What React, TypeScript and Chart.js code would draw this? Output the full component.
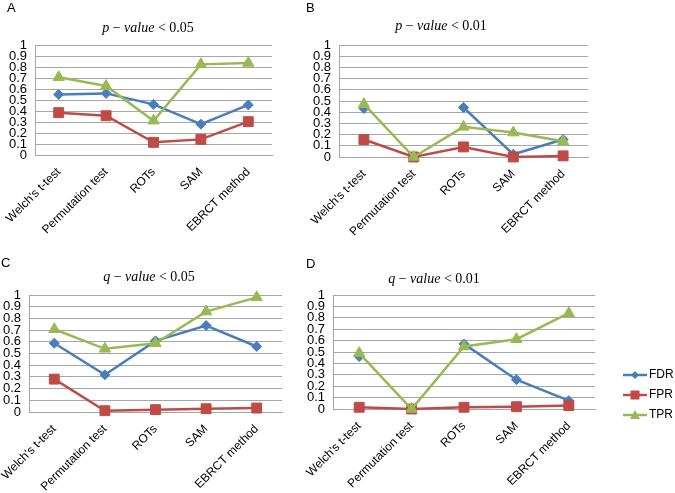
import React, { useEffect, useRef } from "react";
import { Chart, registerables } from "chart.js";

Chart.register(...registerables);

// ---------- data ----------
const methods = ["Welch's t-test", "Permutation test", "ROTs", "SAM", "EBRCT method"];
const seriesNames = ["FDR", "FPR", "TPR"];
const yTickValues = [0, 0.1, 0.2, 0.3, 0.4, 0.5, 0.6, 0.7, 0.8, 0.9, 1];

const panelLetters = ["A", "B", "C", "D"];
const titleVariables = ["p", "p", "q", "q"];
const titleThresholds = ["0.05", "0.01", "0.05", "0.01"];

const fdrA = [0.55, 0.56, 0.46, 0.28, 0.455];
const fprA = [0.385, 0.357, 0.115, 0.142, 0.303];
const tprA = [0.706, 0.627, 0.312, 0.824, 0.836];

const fdrB = [0.433, null, 0.442, 0.024, 0.156];
const fprB = [0.156, 0.0, 0.09, 0.0, 0.01];
const tprB = [0.472, 0.0, 0.269, 0.218, 0.14];

const fdrC = [0.588, 0.318, 0.608, 0.739, 0.56];
const fprC = [0.281, 0.011, 0.02, 0.028, 0.034];
const tprC = [0.707, 0.54, 0.588, 0.858, 0.98];

const fdrD = [0.46, null, 0.571, 0.257, 0.073];
const fprD = [0.015, 0.0, 0.015, 0.02, 0.03];
const tprD = [0.49, 0.0, 0.548, 0.612, 0.84];

const panelSeries = [
  [fdrA, fprA, tprA],
  [fdrB, fprB, tprB],
  [fdrC, fprC, tprC],
  [fdrD, fprD, tprD],
];

// ---------- styles / layout ----------
const COLORS = ["#4A7EBB", "#BE4B48", "#98B954"];
const POINT_STYLES = ["rectRot", "rect", "triangle"];
const POINT_RADII = [5, 7, 6.5];
const ORDERS = [2, 1, 0];
const GRID = "#a6a6a6";
const SANS = '"Liberation Sans", Arial, sans-serif';
const SERIF = '"Liberation Serif", "Times New Roman", serif';

const layouts = [
  { left: 0, top: 0, w: 300, h: 240, yW: 35, padTop: 45, padRight: 28, padBottom: 0, xH: 85, titleX: 148, titleY: 28, letterX: 7, letterY: 8, legend: false },
  { left: 300, top: 0, w: 300, h: 240, yW: 39, padTop: 45, padRight: 12, padBottom: 0, xH: 83, titleX: 141, titleY: 26, letterX: 6, letterY: 8, legend: false },
  { left: 0, top: 240, w: 300, h: 253, yW: 29, padTop: 55, padRight: 18, padBottom: 0, xH: 81, titleX: 149, titleY: 37, letterX: 1, letterY: 23, legend: false },
  { left: 300, top: 240, w: 375, h: 253, yW: 33, padTop: 55, padRight: 0, padBottom: -2, xH: 86, titleX: 134, titleY: 39, letterX: 6, letterY: 24, legend: true },
];

function makeLegendSymbol(idx: number): HTMLCanvasElement {
  const c = document.createElement("canvas");
  c.width = 50;
  c.height = 12;
  const ctx = c.getContext("2d")!;
  const color = COLORS[idx];
  ctx.strokeStyle = color;
  ctx.fillStyle = color;
  ctx.lineWidth = 2.5;
  ctx.beginPath();
  ctx.moveTo(25, 6);
  ctx.lineTo(49, 6);
  ctx.stroke();
  const cx = 37, cy = 6;
  ctx.beginPath();
  if (idx === 0) {
    ctx.moveTo(cx, cy - 4);
    ctx.lineTo(cx + 4, cy);
    ctx.lineTo(cx, cy + 4);
    ctx.lineTo(cx - 4, cy);
  } else if (idx === 1) {
    ctx.rect(cx - 4.5, cy - 4.5, 9, 9);
  } else {
    ctx.moveTo(cx, cy - 5);
    ctx.lineTo(cx + 5, cy + 4);
    ctx.lineTo(cx - 5, cy + 4);
  }
  ctx.closePath();
  ctx.fill();
  return c;
}

function Panel({ index }: { index: number }) {
  const ref = useRef<HTMLCanvasElement>(null);
  const L = layouts[index];

  useEffect(() => {
    const canvas = ref.current;
    if (!canvas) return;
    const symbols = [0, 1, 2].map(makeLegendSymbol);

    const decor = {
      id: "decor" + index,
      afterDraw(chart: any) {
        const ctx = chart.ctx;
        ctx.save();
        ctx.fillStyle = "#000";
        ctx.textBaseline = "middle";
        ctx.textAlign = "left";
        ctx.font = `13px ${SANS}`;
        ctx.fillText(panelLetters[index], L.letterX, L.letterY);

        const segs = [
          { t: titleVariables[index], it: true },
          { t: " \u2212 ", it: false },
          { t: "value", it: true },
          { t: " < " + titleThresholds[index], it: false },
        ];
        const fontFor = (it: boolean) => `${it ? "italic " : ""}14px ${SERIF}`;
        let total = 0;
        for (const s of segs) {
          ctx.font = fontFor(s.it);
          total += ctx.measureText(s.t).width;
        }
        let x = L.titleX - total / 2;
        for (const s of segs) {
          ctx.font = fontFor(s.it);
          ctx.fillText(s.t, x, L.titleY);
          x += ctx.measureText(s.t).width;
        }
        ctx.restore();
      },
    };

    const series = panelSeries[index];
    const chart = new Chart(canvas, {
      type: "line",
      data: {
        labels: methods,
        datasets: seriesNames.map((name, i) => ({
          label: name,
          data: series[i],
          borderColor: COLORS[i],
          backgroundColor: COLORS[i],
          pointBackgroundColor: COLORS[i],
          pointBorderColor: COLORS[i],
          pointStyle: POINT_STYLES[i] as any,
          pointRadius: POINT_RADII[i],
          pointHoverRadius: POINT_RADII[i],
          pointBorderWidth: 1,
          borderWidth: 2.5,
          tension: 0,
          spanGaps: false,
          clip: false as any,
          order: ORDERS[i],
        })),
      },
      options: {
        responsive: false,
        animation: false,
        devicePixelRatio: 1,
        layout: { padding: { top: L.padTop, right: L.padRight, bottom: L.padBottom, left: 0 } },
        plugins: {
          title: { display: false },
          tooltip: { enabled: false },
          legend: {
            display: L.legend,
            position: "right",
            align: "center",
            maxWidth: 80,
            labels: {
              usePointStyle: true,
              pointStyleWidth: 40,
              padding: 8,
              color: "#000",
              font: { family: SANS, size: 12 },
              sort: (a: any, b: any) => a.datasetIndex - b.datasetIndex,
              generateLabels: (ch: any) => {
                const items = (Chart.defaults.plugins.legend.labels as any).generateLabels(ch);
                return items.map((it: any) => ({ ...it, pointStyle: symbols[it.datasetIndex] }));
              },
            },
          },
        },
        scales: {
          x: {
            type: "category",
            offset: true,
            grid: { display: false, drawTicks: false },
            border: { display: true, color: GRID, width: 1 },
            ticks: {
              autoSkip: false,
              minRotation: 45,
              maxRotation: 45,
              padding: 10,
              color: "#000",
              font: { family: SANS, size: 12 },
            },
            afterCalculateLabelRotation: (s: any) => {
              s.labelRotation = 45;
            },
            afterFit: (s: any) => {
              s.height = L.xH;
              s.paddingLeft = 0;
              s.paddingRight = 0;
              s.paddingTop = 0;
              s.paddingBottom = 0;
            },
          },
          y: {
            type: "linear",
            min: 0,
            max: 1,
            grid: { display: true, color: GRID, lineWidth: 1, drawTicks: false },
            border: { display: true, color: GRID, width: 1 },
            ticks: {
              autoSkip: false,
              padding: 8,
              color: "#000",
              font: { family: SANS, size: 13 },
              callback: (v: any) => String(Math.round(Number(v) * 10) / 10),
            },
            afterBuildTicks: (s: any) => {
              s.ticks = yTickValues.map((v) => ({ value: v }));
            },
            afterFit: (s: any) => {
              s.width = L.yW;
              s.paddingLeft = 0;
              s.paddingRight = 0;
              s.paddingTop = 0;
              s.paddingBottom = 0;
            },
          },
        },
      } as any,
      plugins: [decor],
    });
    return () => chart.destroy();
  }, []);

  return (
    <canvas
      ref={ref}
      width={L.w}
      height={L.h}
      style={{ position: "absolute", left: L.left, top: L.top, width: L.w, height: L.h, display: "block" }}
    />
  );
}

export default function App() {
  return (
    <div
      style={{
        position: "absolute",
        left: 0,
        top: 0,
        width: 675,
        height: 493,
        background: "#fff",
        overflow: "hidden",
      }}
    >
      {[0, 1, 2, 3].map((i) => (
        <Panel key={i} index={i} />
      ))}
    </div>
  );
}
